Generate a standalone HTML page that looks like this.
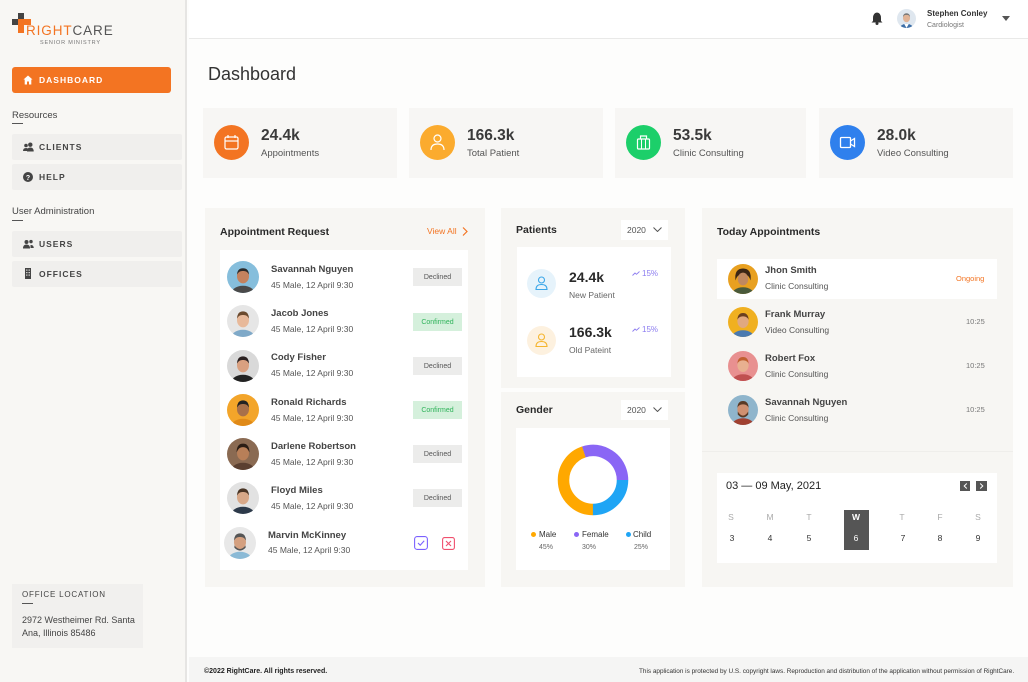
<!DOCTYPE html>
<html><head><meta charset="utf-8">
<style>
*{margin:0;padding:0;box-sizing:border-box}
body{width:1028px;height:682px;overflow:hidden;background:#fdfdfc;font-family:"Liberation Sans",sans-serif;color:#333;position:relative}
.a{position:absolute;white-space:nowrap}
.sb{position:absolute;left:0;top:0;width:187px;height:682px;background:#f8f7f4;border-right:2px solid #e6e5e3}
.nav{position:absolute;left:12px;width:170px;height:26px;background:#f0efed;border-radius:2px}
.navt{position:absolute;left:27px;top:0;line-height:26px;font-size:8.5px;font-weight:bold;letter-spacing:1px;color:#444}
.navi{position:absolute;left:11px;top:8px}
.card{position:absolute;top:108px;height:70px;background:#f7f6f4}
.circ{position:absolute;left:11px;top:17px;width:35px;height:35px;border-radius:50%}
.circ svg{position:absolute;left:0;top:0}
.val{position:absolute;left:58px;top:19px;font-size:15.5px;font-weight:bold;color:#3a3a3a;line-height:18px}
.lbl{position:absolute;left:58px;top:40px;font-size:9.5px;color:#555;line-height:12px}
.panel{position:absolute;background:#f7f6f3}
.white{position:absolute;background:#fff}
.ptitle{position:absolute;font-size:10.5px;font-weight:bold;color:#2a2a2a;line-height:14px}
.av{position:absolute;border-radius:50%;overflow:hidden}
.nm{position:absolute;font-size:9.5px;color:#444;line-height:12px;font-weight:bold}
.sub{position:absolute;font-size:8.5px;color:#555;line-height:11px}
.badge{position:absolute;left:413px;width:49px;height:18px;line-height:19px;font-size:7px;text-align:center}
.dec{background:#ececeb;color:#555}
.con{background:#d5f0dc;color:#2fb35a}
.dd{position:absolute;width:47px;height:20px;background:#fff;font-size:8.5px;color:#555;line-height:20px;padding-left:6px}
.dd svg{position:absolute;right:6px;top:7px}
.cal{position:absolute;font-size:8.5px;text-align:center;width:20px}
</style></head><body>

<!-- SIDEBAR -->
<div class="sb"></div>
<svg class="a" style="left:11px;top:12px" width="22" height="22" viewBox="0 0 22 22">
<rect x="7" y="1" width="6" height="6" fill="#444"/>
<rect x="1" y="7" width="6" height="6" fill="#444"/>
<rect x="7" y="7" width="6" height="14" fill="#f37422"/>
<rect x="7" y="7" width="13" height="6" fill="#f37422"/>
</svg>
<div class="a" style="left:26px;top:24px;font-size:13.5px;line-height:14px;letter-spacing:0.9px"><span style="color:#f37422">RIGHT</span><span style="color:#555">CARE</span></div>
<div class="a" style="left:40px;top:40px;font-size:5.5px;line-height:7px;letter-spacing:0.8px;color:#777">SENIOR MINISTRY</div>

<div class="a" style="left:12px;top:67px;width:159px;height:26px;background:#f37422;border-radius:3px"></div>
<svg class="a" style="left:23px;top:75px" width="10" height="10" viewBox="0 0 10 10"><path d="M5 0.5 L9.5 4.5 H8.3 V9.5 H6 V6.5 H4 V9.5 H1.7 V4.5 H0.5Z" fill="#fff"/></svg>
<div class="a" style="left:39px;top:67px;line-height:26px;font-size:8.5px;font-weight:bold;letter-spacing:1px;color:#fff">DASHBOARD</div>

<div class="a" style="left:12px;top:110px;font-size:9.5px;line-height:12px;color:#444">Resources</div>
<div class="a" style="left:12px;top:123px;width:11px;height:1px;background:#555"></div>
<div class="nav" style="top:134px"><svg class="navi" width="11" height="10" viewBox="0 0 11 10"><circle cx="3" cy="3.5" r="1.8" fill="#444"/><circle cx="7.3" cy="2.7" r="2.2" fill="#444"/><path d="M0 9 Q0 6 3 6 Q5 6 5.5 7.5 V9Z" fill="#444"/><path d="M4 9.5 Q4 5.5 7.3 5.5 Q10.7 5.5 10.7 9.5Z" fill="#444"/></svg><div class="navt">CLIENTS</div></div>
<div class="nav" style="top:164px"><svg class="navi" width="10" height="10" viewBox="0 0 10 10"><circle cx="5" cy="5" r="5" fill="#444"/><text x="5" y="8" font-size="7" fill="#fff" text-anchor="middle" font-family="Liberation Sans" font-weight="bold">?</text></svg><div class="navt">HELP</div></div>
<div class="a" style="left:12px;top:206px;font-size:9.5px;line-height:12px;color:#444">User Administration</div>
<div class="a" style="left:12px;top:220px;width:11px;height:1px;background:#555"></div>
<div class="nav" style="top:231px"><svg class="navi" width="11" height="10" viewBox="0 0 11 10"><circle cx="3.5" cy="3" r="2" fill="#444"/><circle cx="8" cy="2.6" r="1.7" fill="#444"/><path d="M0 9.5 Q0 5.5 3.5 5.5 Q7 5.5 7 9.5Z" fill="#444"/><path d="M7.5 9 V6 Q10.5 5.5 10.8 9Z" fill="#444"/></svg><div class="navt">USERS</div></div>
<div class="nav" style="top:261px"><svg class="navi" width="10" height="11" viewBox="0 0 10 11" style="top:7px"><rect x="2" y="0" width="6" height="11" fill="#444"/><rect x="3.2" y="1.5" width="1.2" height="1.2" fill="#f0efed"/><rect x="5.6" y="1.5" width="1.2" height="1.2" fill="#f0efed"/><rect x="3.2" y="4" width="1.2" height="1.2" fill="#f0efed"/><rect x="5.6" y="4" width="1.2" height="1.2" fill="#f0efed"/><rect x="3.2" y="6.5" width="1.2" height="1.2" fill="#f0efed"/><rect x="5.6" y="6.5" width="1.2" height="1.2" fill="#f0efed"/></svg><div class="navt">OFFICES</div></div>

<div class="a" style="left:12px;top:584px;width:131px;height:64px;background:#f1f0ee"></div>
<div class="a" style="left:22px;top:590px;font-size:8px;line-height:10px;letter-spacing:0.8px;color:#444">OFFICE LOCATION</div>
<div class="a" style="left:22px;top:603px;width:11px;height:1px;background:#555"></div>
<div class="a" style="left:22px;top:614px;font-size:9px;line-height:13px;color:#444;white-space:normal;width:130px">2972 Westheimer Rd. Santa<br>Ana, Illinois 85486</div>

<!-- HEADER -->
<div class="a" style="left:189px;top:0;width:839px;height:39px;background:#fff;border-bottom:1px solid #e9e9e8"></div>
<svg class="a" style="left:871px;top:12px" width="12" height="13" viewBox="0 0 12 13"><path d="M6 0.5 Q10 1 10 6 V9 L11.5 10.5 H0.5 L2 9 V6 Q2 1 6 0.5Z" fill="#333"/><circle cx="6" cy="11.5" r="1.5" fill="#333"/></svg>
<div class="av" style="left:897px;top:9px;width:19px;height:19px"><svg width="19" height="19" viewBox="0 0 40 40"><rect width="40" height="40" fill="#dfe7ef"/><ellipse cx="20" cy="43" rx="15" ry="12" fill="#3d6fa8"/><path d="M15 31 L20 40 L25 31Z" fill="#fff"/><ellipse cx="20" cy="19" rx="7.5" ry="9" fill="#e0b396"/><path d="M12.5 17 Q13 9 20 9 Q27 9 27.5 17 Q25 12 20 12.5 Q15 12 12.5 17Z" fill="#777"/></svg></div>
<div class="a" style="left:927px;top:8px;font-size:8px;line-height:11px;font-weight:bold;color:#333">Stephen Conley</div>
<div class="a" style="left:927px;top:21px;font-size:7px;line-height:10px;color:#777">Cardiologist</div>
<svg class="a" style="left:1002px;top:16px" width="8" height="5" viewBox="0 0 8 5"><path d="M0 0 H8 L4 5Z" fill="#555"/></svg>

<div class="a" style="left:208px;top:63px;font-size:18px;line-height:22px;color:#333">Dashboard</div>

<!-- STAT CARDS -->
<div class="card" style="left:203px;width:194px">
<div class="circ" style="background:#f37422"><svg width="35" height="35" viewBox="0 0 35 35"><rect x="11" y="12" width="13" height="12" rx="1.5" fill="none" stroke="#fff" stroke-width="1.2"/><line x1="11" y1="16" x2="24" y2="16" stroke="#fff" stroke-width="1.2"/><line x1="14" y1="10" x2="14" y2="13" stroke="#fff" stroke-width="1.2"/><line x1="21" y1="10" x2="21" y2="13" stroke="#fff" stroke-width="1.2"/></svg></div>
<div class="val">24.4k</div><div class="lbl">Appointments</div></div>
<div class="card" style="left:409px;width:194px">
<div class="circ" style="background:#fbab2e"><svg width="35" height="35" viewBox="0 0 35 35"><circle cx="17.5" cy="13.5" r="3.5" fill="none" stroke="#fff" stroke-width="1.2"/><path d="M11 25 Q11 19 17.5 19 Q24 19 24 25" fill="none" stroke="#fff" stroke-width="1.2"/></svg></div>
<div class="val">166.3k</div><div class="lbl">Total Patient</div></div>
<div class="card" style="left:615px;width:191px">
<div class="circ" style="background:#1ccf6a"><svg width="35" height="35" viewBox="0 0 35 35"><rect x="11.5" y="14" width="12" height="10" rx="1" fill="none" stroke="#fff" stroke-width="1.2"/><path d="M14.5 14 V11 H20.5 V14" fill="none" stroke="#fff" stroke-width="1.2"/><line x1="15.5" y1="14" x2="15.5" y2="24" stroke="#fff" stroke-width="1"/><line x1="19.5" y1="14" x2="19.5" y2="24" stroke="#fff" stroke-width="1"/></svg></div>
<div class="val">53.5k</div><div class="lbl">Clinic Consulting</div></div>
<div class="card" style="left:819px;width:194px">
<div class="circ" style="background:#2f80ed"><svg width="35" height="35" viewBox="0 0 35 35"><rect x="10.5" y="12.5" width="10" height="10" rx="1" fill="none" stroke="#fff" stroke-width="1.3"/><path d="M20.5 16 L24.5 13.5 V21.5 L20.5 19" fill="none" stroke="#fff" stroke-width="1.3"/></svg></div>
<div class="val">28.0k</div><div class="lbl">Video Consulting</div></div>

<!-- APPOINTMENT REQUEST -->
<div class="panel" style="left:205px;top:208px;width:280px;height:379px"></div>
<div class="ptitle" style="left:220px;top:225px">Appointment Request</div>
<div class="a" style="left:427px;top:225px;font-size:8.5px;line-height:12px;color:#f37422">View All</div>
<svg class="a" style="left:462px;top:227px" width="6" height="9" viewBox="0 0 6 9"><path d="M1 0.5 L5 4.5 L1 8.5" fill="none" stroke="#f37422" stroke-width="1.2"/></svg>
<div class="white" style="left:220px;top:250px;width:248px;height:320px"></div>

<div class="av" style="left:227px;top:261px;width:32px;height:32px"><svg width="32" height="32" viewBox="0 0 40 40"><rect width="40" height="40" fill="#86bedc"/><ellipse cx="20" cy="43" rx="16" ry="12" fill="#4a4a4a"/><ellipse cx="20" cy="19" rx="7.5" ry="9" fill="#c4825e"/><path d="M12.5 17 Q13 9 20 9 Q27 9 27.5 17 Q25 12 20 12.5 Q15 12 12.5 17Z" fill="#2a2a2a"/></svg></div>
<div class="nm" style="left:271px;top:264px">Savannah Nguyen</div><div class="sub" style="left:271px;top:280px">45 Male, 12 April 9:30</div>
<div class="badge dec" style="top:268px">Declined</div>

<div class="av" style="left:227px;top:305px;width:32px;height:32px"><svg width="32" height="32" viewBox="0 0 40 40"><rect width="40" height="40" fill="#e6e6e6"/><ellipse cx="20" cy="43" rx="16" ry="12" fill="#7fa9c8"/><ellipse cx="20" cy="19" rx="7.5" ry="9" fill="#e8b99a"/><path d="M12.5 17 Q13 8 20 8 Q27 8 27.5 17 Q25 12 20 12.5 Q15 12 12.5 17Z" fill="#6b4a2e"/></svg></div>
<div class="nm" style="left:271px;top:308px">Jacob Jones</div><div class="sub" style="left:271px;top:324px">45 Male, 12 April 9:30</div>
<div class="badge con" style="top:313px">Confirmed</div>

<div class="av" style="left:227px;top:350px;width:32px;height:32px"><svg width="32" height="32" viewBox="0 0 40 40"><rect width="40" height="40" fill="#d9d9d9"/><ellipse cx="20" cy="43" rx="16" ry="12" fill="#222"/><ellipse cx="20" cy="19" rx="7.5" ry="9" fill="#d9a080"/><path d="M12.5 17 Q13 8 20 8 Q27 8 27.5 17 Q25 12 20 12.5 Q15 12 12.5 17Z" fill="#2a2020"/></svg></div>
<div class="nm" style="left:271px;top:352px">Cody Fisher</div><div class="sub" style="left:271px;top:368px">45 Male, 12 April 9:30</div>
<div class="badge dec" style="top:357px">Declined</div>

<div class="av" style="left:227px;top:394px;width:32px;height:32px"><svg width="32" height="32" viewBox="0 0 40 40"><rect width="40" height="40" fill="#f3a52a"/><ellipse cx="20" cy="43" rx="16" ry="12" fill="#e08a18"/><ellipse cx="20" cy="19" rx="7.5" ry="9" fill="#a8704a"/><path d="M12.5 17 Q13 8 20 8 Q27 8 27.5 17 Q25 12 20 12.5 Q15 12 12.5 17Z" fill="#222"/></svg></div>
<div class="nm" style="left:271px;top:397px">Ronald Richards</div><div class="sub" style="left:271px;top:413px">45 Male, 12 April 9:30</div>
<div class="badge con" style="top:401px">Confirmed</div>

<div class="av" style="left:227px;top:438px;width:32px;height:32px"><svg width="32" height="32" viewBox="0 0 40 40"><rect width="40" height="40" fill="#8a6a52"/><ellipse cx="20" cy="43" rx="16" ry="12" fill="#5a3f30"/><ellipse cx="20" cy="19" rx="7.5" ry="9" fill="#b87f58"/><path d="M12 18 Q12 7 20 7 Q28 7 28 18 Q25 11 20 11.5 Q15 11 12 18Z" fill="#2a1d15"/></svg></div>
<div class="nm" style="left:271px;top:441px">Darlene Robertson</div><div class="sub" style="left:271px;top:457px">45 Male, 12 April 9:30</div>
<div class="badge dec" style="top:445px">Declined</div>

<div class="av" style="left:227px;top:482px;width:32px;height:32px"><svg width="32" height="32" viewBox="0 0 40 40"><rect width="40" height="40" fill="#e2e2e2"/><ellipse cx="20" cy="43" rx="16" ry="12" fill="#2d3a4a"/><ellipse cx="20" cy="19" rx="7.5" ry="9" fill="#d8a888"/><path d="M12.5 17 Q13 8 20 8 Q27 8 27.5 17 Q25 12 20 12.5 Q15 12 12.5 17Z" fill="#4a3525"/></svg></div>
<div class="nm" style="left:271px;top:485px">Floyd Miles</div><div class="sub" style="left:271px;top:501px">45 Male, 12 April 9:30</div>
<div class="badge dec" style="top:489px">Declined</div>

<div class="av" style="left:224px;top:527px;width:32px;height:32px"><svg width="32" height="32" viewBox="0 0 40 40"><rect width="40" height="40" fill="#e8e8e8"/><ellipse cx="20" cy="43" rx="16" ry="12" fill="#8bbad6"/><ellipse cx="20" cy="19" rx="7.5" ry="9" fill="#d4a080"/><path d="M13 23 Q20 32 27 23 V26 Q20 33 13 26Z" fill="#555"/><path d="M12.5 17 Q13 8 20 8 Q27 8 27.5 17 Q25 12 20 12.5 Q15 12 12.5 17Z" fill="#555"/></svg></div>
<div class="nm" style="left:268px;top:530px">Marvin McKinney</div><div class="sub" style="left:268px;top:545px">45 Male, 12 April 9:30</div>
<svg class="a" style="left:414px;top:536px" width="14" height="14" viewBox="0 0 14 14"><rect x="0.6" y="0.6" width="12.8" height="12.8" rx="2.5" fill="none" stroke="#7b61ff" stroke-width="1.1"/><path d="M4 7 L6.2 9.2 L10.2 4.8" fill="none" stroke="#7b61ff" stroke-width="1.1"/></svg>
<svg class="a" style="left:442px;top:537px" width="13" height="13" viewBox="0 0 13 13"><rect x="0.6" y="0.6" width="11.8" height="11.8" rx="2" fill="none" stroke="#f0506e" stroke-width="1.1"/><path d="M4 4 L9 9 M9 4 L4 9" stroke="#f0506e" stroke-width="1.1"/></svg>

<!-- PATIENTS -->
<div class="panel" style="left:501px;top:208px;width:184px;height:180px"></div>
<div class="ptitle" style="left:516px;top:223px">Patients</div>
<div class="dd" style="left:621px;top:220px">2020<svg width="9" height="5" viewBox="0 0 9 5"><path d="M0.5 0.5 L4.5 4.5 L8.5 0.5" fill="none" stroke="#555" stroke-width="1"/></svg></div>
<div class="white" style="left:517px;top:247px;width:154px;height:130px"></div>
<div class="a" style="left:527px;top:269px;width:29px;height:29px;border-radius:50%;background:#e6f3fb"></div>
<svg class="a" style="left:535px;top:276px" width="13" height="14" viewBox="0 0 13 14"><circle cx="6.5" cy="4" r="3" fill="none" stroke="#3aa6e8" stroke-width="1.1"/><path d="M1 13.5 Q1 8.5 6.5 8.5 Q12 8.5 12 13.5Z" fill="none" stroke="#3aa6e8" stroke-width="1.1"/></svg>
<div class="a" style="left:569px;top:269px;font-size:14px;line-height:17px;font-weight:bold;color:#2a2a2a">24.4k</div>
<div class="a" style="left:569px;top:290px;font-size:8.5px;line-height:11px;color:#666">New Patient</div>
<svg class="a" style="left:632px;top:271px" width="8" height="5" viewBox="0 0 8 5"><path d="M0.5 4.5 L3 2 L4.5 3.3 L7.5 0.5" fill="none" stroke="#8c7cf0" stroke-width="0.9"/></svg>
<div class="a" style="left:642px;top:269px;font-size:8px;line-height:10px;color:#8c7cf0">15%</div>

<div class="a" style="left:527px;top:326px;width:29px;height:29px;border-radius:50%;background:#fdf1df"></div>
<svg class="a" style="left:535px;top:333px" width="13" height="14" viewBox="0 0 13 14"><circle cx="6.5" cy="4" r="3" fill="none" stroke="#f5b52e" stroke-width="1.1"/><path d="M1 13.5 Q1 8.5 6.5 8.5 Q12 8.5 12 13.5Z" fill="none" stroke="#f5b52e" stroke-width="1.1"/></svg>
<div class="a" style="left:569px;top:324px;font-size:14px;line-height:17px;font-weight:bold;color:#2a2a2a">166.3k</div>
<div class="a" style="left:569px;top:345px;font-size:8.5px;line-height:11px;color:#666">Old Pateint</div>
<svg class="a" style="left:632px;top:327px" width="8" height="5" viewBox="0 0 8 5"><path d="M0.5 4.5 L3 2 L4.5 3.3 L7.5 0.5" fill="none" stroke="#8c7cf0" stroke-width="0.9"/></svg>
<div class="a" style="left:642px;top:325px;font-size:8px;line-height:10px;color:#8c7cf0">15%</div>

<!-- GENDER -->
<div class="panel" style="left:501px;top:392px;width:184px;height:195px"></div>
<div class="ptitle" style="left:516px;top:403px">Gender</div>
<div class="dd" style="left:621px;top:400px">2020<svg width="9" height="5" viewBox="0 0 9 5"><path d="M0.5 0.5 L4.5 4.5 L8.5 0.5" fill="none" stroke="#555" stroke-width="1"/></svg></div>
<div class="white" style="left:516px;top:428px;width:154px;height:142px"></div>
<svg class="a" style="left:553px;top:440px" width="80" height="80" viewBox="0 0 80 80">
<g transform="translate(40,40)">
<circle r="29.5" fill="none" stroke="#ffa800" stroke-width="11.5" stroke-dasharray="83.4 185.35" transform="rotate(90)"/>
<circle r="29.5" fill="none" stroke="#8a66f5" stroke-width="11.5" stroke-dasharray="55.6 185.35" transform="rotate(252)"/>
<circle r="29.5" fill="none" stroke="#1fa5f5" stroke-width="11.5" stroke-dasharray="46.35 185.35" transform="rotate(0)"/>
</g></svg>
<div class="a" style="left:531px;top:532px;width:5px;height:5px;border-radius:50%;background:#ffa800"></div>
<div class="a" style="left:539px;top:529px;font-size:8px;line-height:11px;color:#333">Male</div>
<div class="a" style="left:539px;top:543px;font-size:7px;line-height:10px;color:#666">45%</div>
<div class="a" style="left:574px;top:532px;width:5px;height:5px;border-radius:50%;background:#8a66f5"></div>
<div class="a" style="left:582px;top:529px;font-size:8px;line-height:11px;color:#333">Female</div>
<div class="a" style="left:582px;top:543px;font-size:7px;line-height:10px;color:#666">30%</div>
<div class="a" style="left:626px;top:532px;width:5px;height:5px;border-radius:50%;background:#1fa5f5"></div>
<div class="a" style="left:633px;top:529px;font-size:8px;line-height:11px;color:#333">Child</div>
<div class="a" style="left:634px;top:543px;font-size:7px;line-height:10px;color:#666">25%</div>

<!-- TODAY APPOINTMENTS -->
<div class="panel" style="left:702px;top:208px;width:311px;height:379px"></div>
<div class="a" style="left:702px;top:451px;width:311px;height:1px;background:#efeeeb"></div>
<div class="ptitle" style="left:717px;top:225px">Today Appointments</div>
<div class="white" style="left:717px;top:259px;width:280px;height:40px"></div>

<div class="av" style="left:728px;top:264px;width:30px;height:30px"><svg width="30" height="30" viewBox="0 0 40 40"><rect width="40" height="40" fill="#e8a020"/><ellipse cx="20" cy="43" rx="16" ry="12" fill="#4a5a3a"/><path d="M10 22 Q8 6 20 6 Q32 6 30 22 Q28 14 20 13 Q12 14 10 22Z" fill="#3a2515"/><ellipse cx="20" cy="20" rx="7" ry="8.5" fill="#c08860"/></svg></div>
<div class="nm" style="left:765px;top:265px">Jhon Smith</div><div class="sub" style="left:765px;top:281px">Clinic Consulting</div>
<div class="a" style="left:956px;top:274px;font-size:7.5px;line-height:10px;color:#f37422">Ongoing</div>

<div class="av" style="left:728px;top:307px;width:30px;height:30px"><svg width="30" height="30" viewBox="0 0 40 40"><rect width="40" height="40" fill="#f0b020"/><ellipse cx="20" cy="43" rx="16" ry="12" fill="#4a7ab0"/><ellipse cx="20" cy="19" rx="7.5" ry="9" fill="#e0a880"/><path d="M12.5 17 Q13 8 20 8 Q27 8 27.5 17 Q25 12 20 12.5 Q15 12 12.5 17Z" fill="#6a4020"/></svg></div>
<div class="nm" style="left:765px;top:309px">Frank Murray</div><div class="sub" style="left:765px;top:325px">Video Consulting</div>
<div class="a" style="left:966px;top:317px;font-size:7.5px;line-height:10px;color:#777">10:25</div>

<div class="av" style="left:728px;top:351px;width:30px;height:30px"><svg width="30" height="30" viewBox="0 0 40 40"><rect width="40" height="40" fill="#e89090"/><ellipse cx="20" cy="43" rx="16" ry="12" fill="#c05050"/><ellipse cx="20" cy="19" rx="7.5" ry="9" fill="#e8b090"/><path d="M12.5 17 Q13 8 20 8 Q27 8 27.5 17 Q25 12 20 12.5 Q15 12 12.5 17Z" fill="#c06030"/></svg></div>
<div class="nm" style="left:765px;top:353px">Robert Fox</div><div class="sub" style="left:765px;top:369px">Clinic Consulting</div>
<div class="a" style="left:966px;top:361px;font-size:7.5px;line-height:10px;color:#777">10:25</div>

<div class="av" style="left:728px;top:395px;width:30px;height:30px"><svg width="30" height="30" viewBox="0 0 40 40"><rect width="40" height="40" fill="#8fb5cc"/><ellipse cx="20" cy="43" rx="16" ry="12" fill="#a04030"/><ellipse cx="20" cy="19" rx="7.5" ry="9" fill="#d09070"/><path d="M13 22 Q20 33 27 22 V26 Q20 34 13 26Z" fill="#5a3a25"/><path d="M12.5 17 Q13 8 20 8 Q27 8 27.5 17 Q25 12 20 12.5 Q15 12 12.5 17Z" fill="#5a3a25"/></svg></div>
<div class="nm" style="left:765px;top:397px">Savannah Nguyen</div><div class="sub" style="left:765px;top:413px">Clinic Consulting</div>
<div class="a" style="left:966px;top:405px;font-size:7.5px;line-height:10px;color:#777">10:25</div>

<!-- CALENDAR -->
<div class="white" style="left:717px;top:473px;width:280px;height:90px"></div>
<div class="a" style="left:726px;top:479px;font-size:11px;line-height:14px;color:#222">03 — 09 May, 2021</div>
<div class="a" style="left:960px;top:481px;width:10px;height:10px;background:#555"></div>
<svg class="a" style="left:963px;top:483px" width="5" height="6" viewBox="0 0 5 6"><path d="M3.8 0.5 L1.2 3 L3.8 5.5" fill="none" stroke="#fff" stroke-width="1"/></svg>
<div class="a" style="left:976px;top:481px;width:11px;height:10px;background:#555"></div>
<svg class="a" style="left:979px;top:483px" width="5" height="6" viewBox="0 0 5 6"><path d="M1.2 0.5 L3.8 3 L1.2 5.5" fill="none" stroke="#fff" stroke-width="1"/></svg>
<div class="a" style="left:844px;top:510px;width:25px;height:40px;background:#555"></div>
<div class="cal a" style="left:721px;top:512px;color:#aaa">S</div>
<div class="cal a" style="left:760px;top:512px;color:#aaa">M</div>
<div class="cal a" style="left:799px;top:512px;color:#aaa">T</div>
<div class="cal a" style="left:846px;top:512px;color:#fff;font-weight:bold">W</div>
<div class="cal a" style="left:892px;top:512px;color:#aaa">T</div>
<div class="cal a" style="left:930px;top:512px;color:#aaa">F</div>
<div class="cal a" style="left:968px;top:512px;color:#aaa">S</div>
<div class="cal a" style="left:722px;top:533px;color:#333">3</div>
<div class="cal a" style="left:760px;top:533px;color:#333">4</div>
<div class="cal a" style="left:799px;top:533px;color:#333">5</div>
<div class="cal a" style="left:846px;top:533px;color:#fff">6</div>
<div class="cal a" style="left:893px;top:533px;color:#333">7</div>
<div class="cal a" style="left:930px;top:533px;color:#333">8</div>
<div class="cal a" style="left:968px;top:533px;color:#333">9</div>

<!-- FOOTER -->
<div class="a" style="left:189px;top:657px;width:839px;height:25px;background:#f5f5f4"></div>
<div class="a" style="left:204px;top:667px;font-size:7px;line-height:10px;font-weight:bold;color:#222">©2022 RightCare. All rights reserved.</div>
<div class="a" style="left:639px;top:667px;font-size:6.4px;line-height:9px;color:#333">This application is protected by U.S. copyright laws. Reproduction and distribution of the application without permission of RightCare.</div>

</body></html>
